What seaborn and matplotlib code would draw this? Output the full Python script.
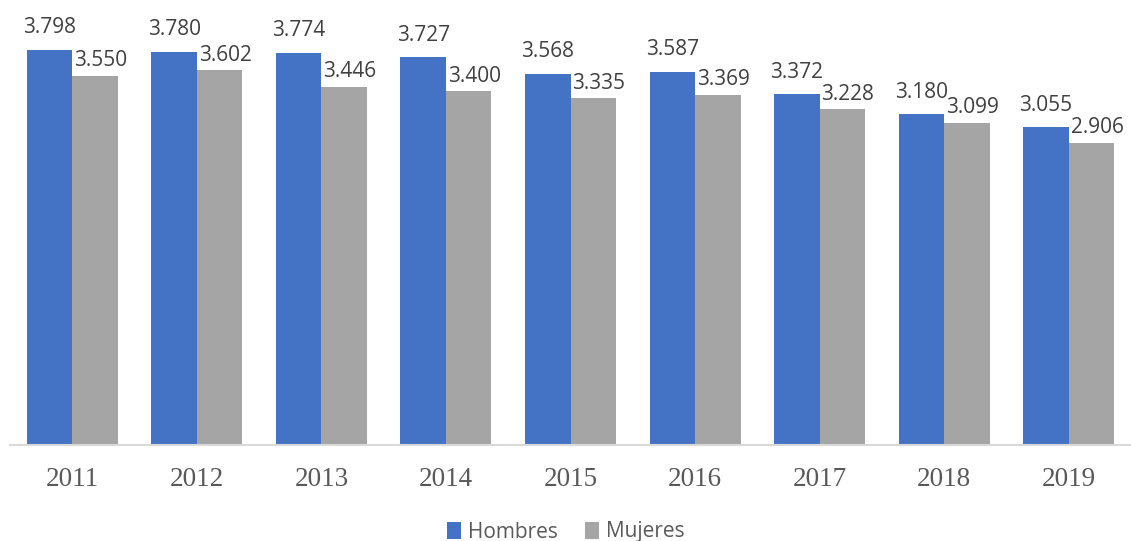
import matplotlib
matplotlib.use("Agg")
import matplotlib.pyplot as plt
import seaborn as sns
import pandas as pd

years = ["2011", "2012", "2013", "2014", "2015", "2016", "2017", "2018", "2019"]
hombres = [3.798, 3.780, 3.774, 3.727, 3.568, 3.587, 3.372, 3.180, 3.055]
mujeres = [3.550, 3.602, 3.446, 3.400, 3.335, 3.369, 3.228, 3.099, 2.906]
series = ["Hombres", "Mujeres"]
colors = ["#4472C4", "#A5A5A5"]

df = pd.DataFrame({
    "year": years * 2,
    "value": hombres + mujeres,
    "serie": [series[0]] * len(years) + [series[1]] * len(years),
})

sns.set_theme(style="white")
plt.rcParams["font.family"] = ["Open Sans", "DejaVu Sans"]

fig = plt.figure(figsize=(11.31, 5.41), dpi=100)
ax = fig.add_axes([10 / 1131, 96 / 541, 1121 / 1131, 445 / 541])

sns.barplot(data=df, x="year", y="value", hue="serie", palette=colors,
            width=0.73, gap=0, ax=ax, saturation=1, legend=True, linewidth=0)

ax.set_ylim(0, 4.28)
ax.set_xlim(-0.5, len(years) - 0.5)
ax.set_xlabel("")
ax.set_ylabel("")
ax.set_yticks([])
for s in ["top", "right", "left"]:
    ax.spines[s].set_visible(False)
ax.spines["bottom"].set_color("#D9D9D9")
ax.spines["bottom"].set_linewidth(1.5)
ax.tick_params(axis="x", length=0, pad=16)
for lab in ax.get_xticklabels():
    lab.set_fontfamily("Liberation Serif")
    lab.set_fontsize(19.5)
    lab.set_color("#595959")

for ci, cont in enumerate(ax.containers):
    for bar in cont:
        h = bar.get_height()
        cx = bar.get_x() + bar.get_width() / 2
        dx, dy = (0, 12) if ci == 0 else (4, 7)
        ax.annotate(f"{h:.3f}", (cx, h), xytext=(dx, dy), textcoords="offset points",
                    ha="center", va="baseline", fontsize=15, color="#404040")

handles, labels = ax.get_legend_handles_labels()
ax.legend(handles, labels, loc="center", bbox_to_anchor=(0.5, 9 / 541),
          bbox_transform=fig.transFigure, ncol=2, frameon=False,
          handlelength=0.7, handleheight=0.9, handletextpad=0.3,
          columnspacing=1.3, prop={"size": 15}, labelcolor="#595959")

fig.savefig("out.png", dpi=100)
